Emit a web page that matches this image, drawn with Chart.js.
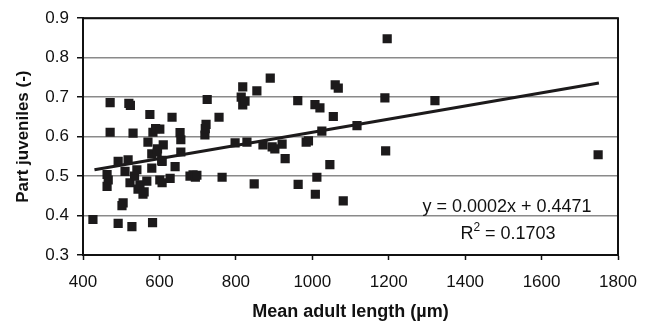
<!DOCTYPE html>
<html>
<head>
<meta charset="utf-8">
<script src="https://cdn.jsdelivr.net/npm/chart.js@4.4.1/dist/chart.umd.min.js"></script>
<style>
  html, body { margin: 0; padding: 0; background: #fff; }
  #wrap { width: 650px; height: 325px; position: relative; }
</style>
</head>
<body>
<div id="wrap"><canvas id="myChart"></canvas></div>
<script>
// mean adult length (um) and part juveniles
var lengthX = [426, 463, 463, 466, 471, 471, 492, 492, 502, 505, 510, 518, 520, 524, 528, 531, 523, 535, 541, 544,
  549, 557, 560, 567, 570, 575, 580, 582, 580, 583, 590, 594, 595, 601, 601, 606, 607, 607, 610, 628,
  633, 641, 654, 656, 656, 680, 688, 694, 698, 719, 722, 720, 725, 756, 764, 798, 814, 818, 818, 824,
  829, 848, 855, 871, 890, 895, 902, 921, 929, 962, 963, 984, 990, 1007, 1008, 1012, 1020, 1025, 1046, 1055,
  1060, 1068, 1081, 1117, 1190, 1192, 1196, 1321, 1748];
var juvY = [0.390, 0.504, 0.474, 0.490, 0.686, 0.611, 0.380, 0.537, 0.425, 0.432, 0.512, 0.541, 0.684, 0.679, 0.372, 0.609, 0.483, 0.500, 0.516, 0.467,
  0.478, 0.454, 0.460, 0.487, 0.586, 0.656, 0.520, 0.382, 0.556, 0.611, 0.620, 0.561, 0.569, 0.490, 0.619, 0.540, 0.483, 0.537, 0.579, 0.494,
  0.649, 0.524, 0.610, 0.592, 0.561, 0.500, 0.503, 0.497, 0.502, 0.604, 0.631, 0.620, 0.694, 0.649, 0.497, 0.584, 0.700, 0.726, 0.680, 0.690,
  0.586, 0.480, 0.716, 0.579, 0.748, 0.574, 0.569, 0.581, 0.544, 0.691, 0.479, 0.586, 0.589, 0.681, 0.454, 0.497, 0.673, 0.614, 0.529, 0.651,
  0.731, 0.723, 0.437, 0.628, 0.698, 0.564, 0.848, 0.691, 0.554];

// linear trend line end points
var trendX = [430, 1750];
var trendY = [0.516, 0.736];

var eqText = 'y = 0.0002x + 0.4471';
var r2Text = '0.1703';

var xTicks = [400, 600, 800, 1000, 1200, 1400, 1600, 1800];
var yTicks = [0.3, 0.4, 0.5, 0.6, 0.7, 0.8, 0.9];

var FONT = '"Liberation Sans", Arial, sans-serif';

var pts = lengthX.map(function (x, i) { return { x: x, y: juvY[i] }; });
var trend = trendX.map(function (x, i) { return { x: x, y: trendY[i] }; });

var boxPlugin = {
  id: 'boxAndText',
  afterDatasetsDraw: function (chart) {
    var ctx = chart.ctx, a = chart.chartArea;
    ctx.save();
    ctx.strokeStyle = '#111';
    ctx.lineWidth = 2;
    ctx.beginPath();
    ctx.moveTo(a.left, a.top);
    ctx.lineTo(a.right, a.top);
    ctx.lineTo(a.right, a.bottom);
    ctx.stroke();
    ctx.fillStyle = '#111';
    ctx.font = '18px ' + FONT;
    ctx.textAlign = 'center';
    ctx.textBaseline = 'alphabetic';
    ctx.fillText(eqText, 507, 212);
    // R^2 with superscript
    var base = 'R', rest = ' = ' + r2Text;
    var wR = ctx.measureText(base).width;
    ctx.font = '12px ' + FONT;
    var wS = ctx.measureText('2').width;
    ctx.font = '18px ' + FONT;
    var wRest = ctx.measureText(rest).width;
    var x0 = 508 - (wR + wS + wRest) / 2;
    ctx.textAlign = 'left';
    ctx.fillText(base, x0, 239);
    ctx.font = '12px ' + FONT;
    ctx.fillText('2', x0 + wR, 231);
    ctx.font = '18px ' + FONT;
    ctx.fillText(rest, x0 + wR + wS, 239);
    ctx.restore();
  }
};

var myChart = new Chart(document.getElementById('myChart'), {
  type: 'scatter',
  data: {
    datasets: [{
      data: pts,
      pointStyle: 'rect',
      pointRadius: 6.5,
      pointBorderWidth: 0,
      backgroundColor: '#1c1a1b',
      borderColor: '#1c1a1b'
    }, {
      type: 'line',
      data: trend,
      borderColor: '#1c1a1b',
      borderWidth: 3,
      pointRadius: 0,
      fill: false
    }]
  },
  options: {
    responsive: true,
    maintainAspectRatio: false,
    animation: false,
    events: [],
    layout: { padding: { top: 14, right: 32, left: 0, bottom: 0 } },
    plugins: { legend: { display: false }, tooltip: { enabled: false } },
    scales: {
      x: {
        type: 'linear',
        min: 400, max: 1800,
        afterBuildTicks: function (s) { s.ticks = xTicks.map(function (v) { return { value: v }; }); },
        afterFit: function (s) { s.height = 70; },
        grid: { drawOnChartArea: false, drawTicks: true, tickLength: 5, tickColor: '#111', tickWidth: 1.5 },
        border: { color: '#111', width: 2 },
        ticks: { color: '#111', font: { family: FONT, size: 17 }, padding: 12, maxRotation: 0, callback: function (v) { return String(v); } },
        title: { display: true, text: 'Mean adult length (µm)', color: '#111', font: { family: FONT, size: 18, weight: 'bold' }, padding: { top: 0, bottom: 2 } }
      },
      y: {
        min: 0.3, max: 0.9,
        afterBuildTicks: function (s) { s.ticks = yTicks.map(function (v) { return { value: v }; }); },
        afterFit: function (s) { s.width = 83; },
        grid: { color: '#8a8a8a', lineWidth: 1.5, tickColor: '#111', tickLength: 6, tickWidth: 1.5 },
        border: { color: '#111', width: 2 },
        ticks: { color: '#111', font: { family: FONT, size: 17 }, padding: 8, callback: function (v) { return v.toFixed(1); } },
        title: { display: true, text: 'Part juveniles (-)', color: '#111', font: { family: FONT, size: 17, weight: 'bold' }, padding: { top: 13, bottom: 0 } }
      }
    }
  },
  plugins: [boxPlugin]
});
</script>
</body>
</html>
